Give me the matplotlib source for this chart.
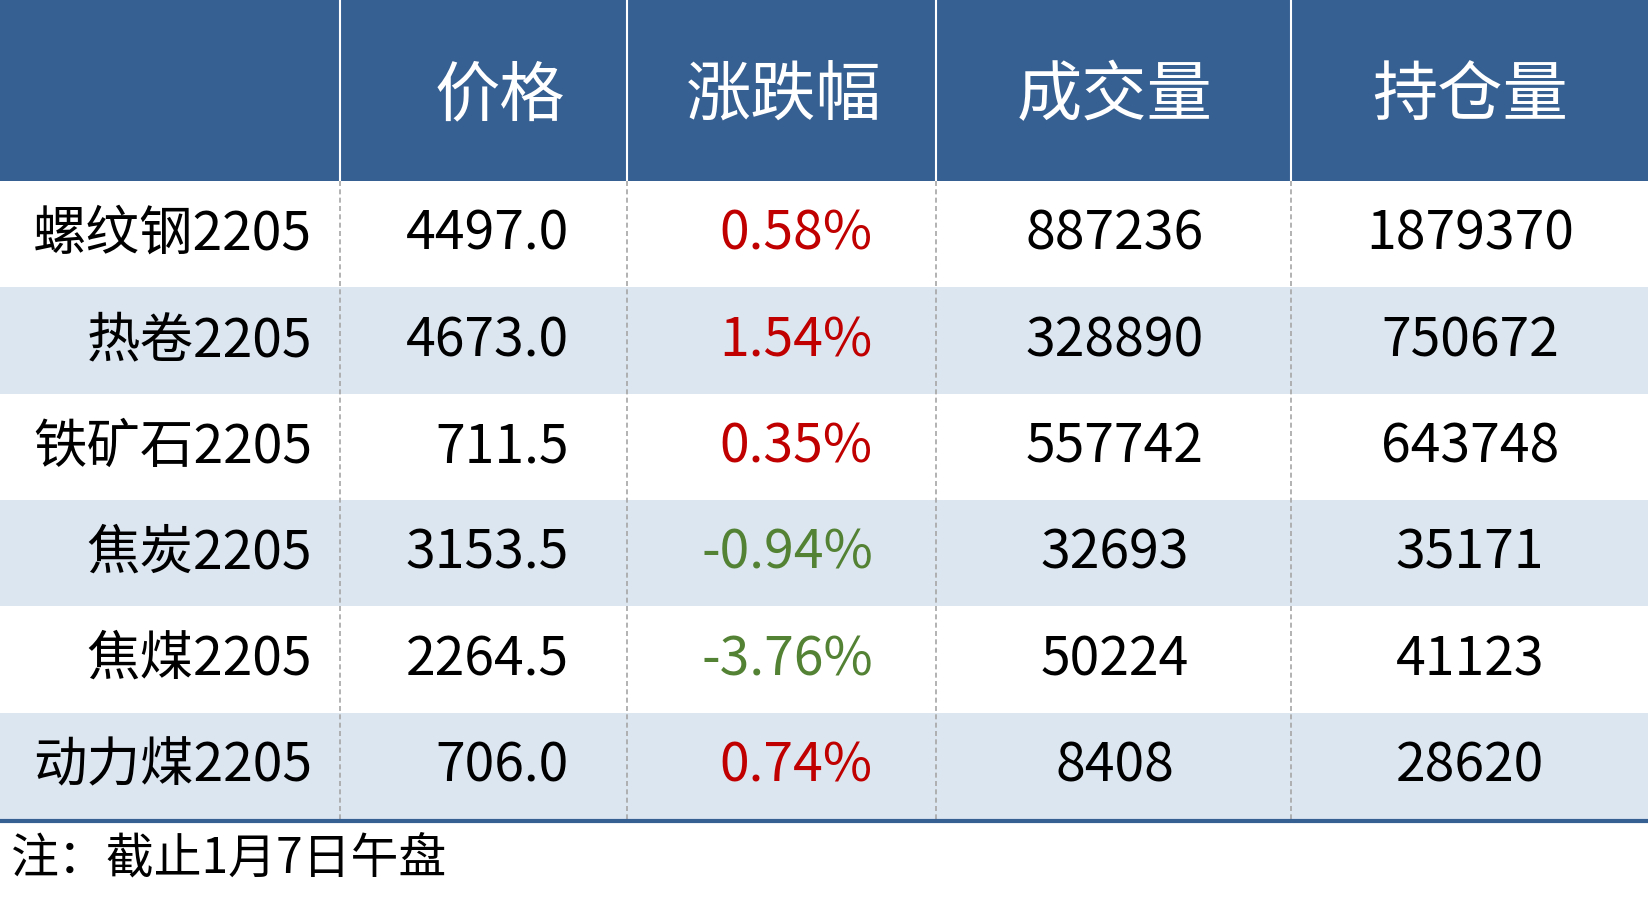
import matplotlib.pyplot as plt
from matplotlib.patches import Rectangle

plt.rcParams['font.family'] = ['Noto Sans CJK SC', 'DejaVu Sans']

headers = ["", "价格", "涨跌幅", "成交量", "持仓量"]
names = ["螺纹钢2205", "热卷2205", "铁矿石2205", "焦炭2205", "焦煤2205", "动力煤2205"]
prices = ["4497.0", "4673.0", "711.5", "3153.5", "2264.5", "706.0"]
changes = [0.58, 1.54, 0.35, -0.94, -3.76, 0.74]
volumes = ["887236", "328890", "557742", "32693", "50224", "8408"]
holdings = ["1879370", "750672", "643748", "35171", "41123", "28620"]
note = "注：截止1月7日午盘"

W, H = 1568, 853
col_edges = [0, 323, 596, 890, 1228, 1568]
head_h = 172
row_h = 101

fig = plt.figure(figsize=(16.49, 8.98), dpi=100)
ax = fig.add_axes([0, 0, 1, 1])
ax.set_xlim(0, W)
ax.set_ylim(H, 0)
ax.axis('off')

blue = '#366092'
light = '#DCE6F1'
fs = 38.5

ax.add_patch(Rectangle((0, 0), W, head_h, color=blue, lw=0))
for x in col_edges[1:-1]:
    ax.plot([x, x], [0, head_h], color='white', lw=1.5)

head_x = [None, 475, 745, 1060, 1398]
for i, h in enumerate(headers):
    if h:
        ax.text(head_x[i], 92, h, color='white', fontsize=47,
                ha='center', va='center')

for r in range(len(names)):
    y0 = head_h + r * row_h
    if r % 2 == 1:
        ax.add_patch(Rectangle((0, y0), W, row_h, color=light, lw=0))
    yc = y0 + row_h / 2
    ax.text(297, yc, names[r], fontsize=fs, ha='right', va='center', color='black')
    ax.text(541, yc, prices[r], fontsize=fs, ha='right', va='center', color='black')
    c = changes[r]
    ax.text(830, yc, f"{c:.2f}%", fontsize=fs, ha='right', va='center',
            color='#C00000' if c >= 0 else '#548235')
    ax.text(1060, yc, volumes[r], fontsize=fs, ha='center', va='center', color='black')
    ax.text(1398, yc, holdings[r], fontsize=fs, ha='center', va='center', color='black')

body_end = head_h + len(names) * row_h
for x in col_edges[1:-1]:
    ax.plot([x, x], [head_h, body_end], color='#A6A6A6', lw=1.2, ls=(0, (3, 2)))
ax.plot([0, W], [body_end + 2, body_end + 2], color=blue, lw=3)

ax.text(10, 816, note, fontsize=34.5, ha='left', va='center', color='black')

fig.savefig('out.png', dpi=100, facecolor='white')
